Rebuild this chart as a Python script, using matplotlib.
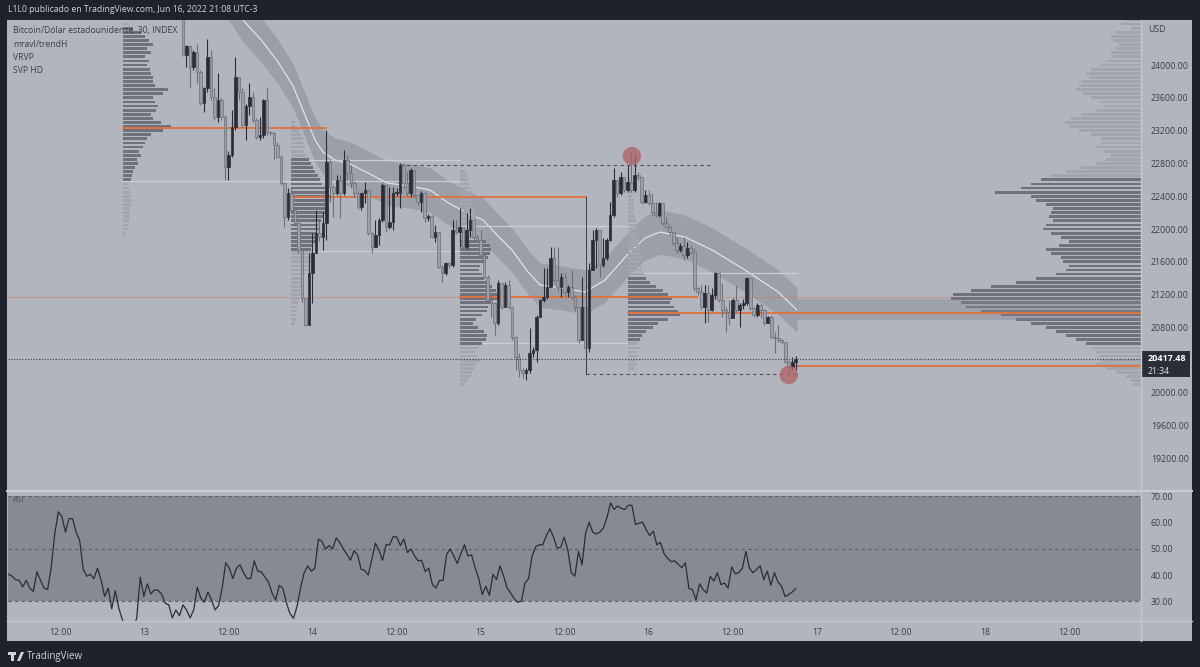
import numpy as np
import matplotlib
matplotlib.use("Agg")
import matplotlib.pyplot as plt
from matplotlib.patches import Rectangle, Polygon
from matplotlib.lines import Line2D

plt.rcParams['font.family'] = ['Open Sans', 'DejaVu Sans']

# ---------------- data ----------------
# x axis: hours since 2022-06-13 00:00 (UTC-3); 30-minute candles
bar_start_hour = 5.5
bar_hours = 0.5
first_open = 24620
closes = [24122, 24232, 23980, 24163, 23919, 23533, 23716, 24102, 23614, 23370,
          23573, 23370, 22760, 22903, 23248, 23858, 23675, 23269, 23500, 23614,
          23329, 23126, 23146, 23573, 23187, 23167, 23025, 22882, 22557, 22150,
          22443, 22232, 22069, 21744, 21155, 20830, 21459, 21703, 21947, 21907,
          22069, 22821, 22516, 22435, 22598, 22435, 22841, 22678, 22557, 22435,
          22272, 22435, 22475, 21947, 21784, 21926, 22109, 22536, 22028, 22089,
          22435, 22443, 22780, 22557, 22435, 22719, 22414, 22333, 22435, 22130,
          22158, 21906, 21967, 21540, 21459, 21581, 21560, 21987, 21967, 22028,
          21784, 21987, 22109, 21906, 21865, 21683, 21418, 21134, 21093, 20849,
          21337, 21053, 21317, 21053, 20687, 20443, 20280, 20240, 20280, 20483,
          20524, 20930, 21134, 21174, 21296, 21642, 21378, 21296, 21418, 21235,
          21296, 21174, 21053, 20646, 21053, 20544, 21500, 21866, 21988, 21561,
          21642, 21866, 22170, 22597, 22435, 22638, 22475, 22577, 22475, 22658,
          22638, 22333, 22414, 22313, 22211, 22171, 22313, 22070, 22029, 21968,
          21826, 21744, 21793, 21683, 21765, 21724, 21277, 21236, 21053, 21216,
          21013, 21196, 21460, 21135, 21013, 20992, 20911, 21135, 21013, 21074,
          21094, 21399, 21033, 20952, 21074, 21013, 20850, 20931, 20687, 20667,
          20647, 20626, 20383, 20322, 20383, 20417]
highs = [24650, 24250, 24240, 24183, 24256, 23939, 23736, 24313, 24183, 23716,
         23899, 23593, 23390, 22950, 23450, 24102, 23858, 23716, 23520, 23777,
         23675, 23350, 23370, 23590, 23736, 23200, 23180, 23060, 22900, 22560,
         22496, 22496, 22260, 22090, 21744, 21160, 21703, 21947, 22232, 22110,
         22211, 23207, 22841, 22536, 22659, 22659, 22963, 22900, 22780, 22580,
         22475, 22450, 22577, 22333, 21960, 22109, 22130, 22557, 22536, 22516,
         22516, 22500, 22800, 22780, 22699, 22740, 22658, 22420, 22460, 22333,
         22180, 22170, 22048, 21967, 21560, 21600, 21600, 22109, 22109, 22252,
         22028, 22191, 22252, 22109, 21930, 21987, 21700, 21440, 21230, 21113,
         21378, 21337, 21358, 21378, 21060, 20700, 20483, 20300, 20300, 20788,
         20560, 20950, 21150, 21520, 21520, 21784, 21784, 21784, 21459, 21459,
         21320, 21500, 21200, 21060, 21418, 20750, 21581, 21987, 22008, 21988,
         21886, 21886, 22333, 22740, 22597, 22699, 22638, 22780, 22943, 22900,
         22700, 22638, 22475, 22475, 22435, 22334, 22330, 22313, 22151, 22050,
         21968, 21907, 21826, 21907, 21846, 21800, 21765, 21290, 21317, 21317,
         21317, 21277, 21480, 21460, 21338, 21050, 21135, 21155, 21317, 21100,
         21150, 21420, 21317, 21050, 21100, 21090, 21020, 20940, 20951, 20750,
         20830, 20660, 20626, 20400, 20443, 20450]
lows = [24110, 23980, 23736, 23939, 23777, 23512, 23431, 23675, 23573, 23329,
        23309, 23329, 22598, 22598, 22880, 23207, 23574, 23250, 23086, 23390,
        23300, 23100, 23086, 23110, 23146, 23146, 22842, 22860, 22540, 22029,
        22110, 22210, 22040, 21703, 21110, 20818, 20830, 21094, 21744, 21850,
        21744, 21866, 22333, 22150, 22415, 22130, 22415, 22600, 22500, 22390,
        22250, 22230, 22313, 21926, 21703, 21805, 21805, 22089, 21967, 22000,
        21988, 22400, 22252, 22500, 22400, 22390, 22380, 22290, 22211, 22089,
        22100, 21886, 21845, 21520, 21357, 21439, 21520, 21540, 21940, 21784,
        21760, 21760, 21906, 21880, 21840, 21660, 21400, 21110, 20930, 20707,
        20829, 21030, 21053, 21030, 20646, 20280, 20199, 20178, 20158, 20240,
        20443, 20382, 20930, 21110, 21150, 21459, 21350, 21240, 21174, 21200,
        21174, 21150, 21000, 20605, 20646, 20240, 20500, 21500, 21520, 21420,
        21540, 21620, 21850, 22150, 22394, 22414, 22450, 22455, 22450, 22455,
        22600, 22300, 22313, 22290, 22170, 22150, 22150, 22049, 22010, 21927,
        21800, 21704, 21720, 21622, 21642, 21700, 21250, 21196, 21030, 20850,
        20870, 21000, 21150, 21110, 20931, 20750, 20830, 20911, 20990, 20810,
        21020, 21074, 21010, 20930, 20930, 20911, 20830, 20850, 20667, 20492,
        20620, 20600, 20362, 20240, 20280, 20280]
last_price = 20417.48

# RSI(14) values, left to right
rsi = [40.3, 39.6, 38.3, 38.0, 35.5, 38.0, 35.1, 33.8, 41.3, 38.0, 35.1, 34.5, 42.8, 55.6,
       64.0, 62.3, 56.3, 61.4, 61.4, 56.3, 53.1, 42.2, 39.6, 40.3, 38.7, 42.6, 38.3, 31.9,
       35.1, 27.2, 34.1, 27.4, 23.0, 20.5, 19.0, 20.0, 23.6, 39.2, 31.9, 36.7, 32.8, 34.5,
       34.2, 32.8, 29.4, 28.7, 23.8, 26.8, 24.6, 28.7, 26.8, 23.8, 26.8, 35.4, 31.3, 29.7,
       33.6, 30.6, 26.8, 28.5, 35.1, 44.7, 42.6, 38.7, 42.6, 43.9, 40.9, 38.7, 38.7, 45.4,
       41.5, 41.2, 39.2, 37.4, 33.2, 30.6, 36.1, 35.1, 29.7, 25.5, 23.6, 28.1, 35.1, 40.9,
       43.5, 41.5, 42.6, 53.7, 52.8, 49.9, 51.2, 49.9, 54.1, 52.4, 49.9, 47.9, 45.6, 49.2,
       47.7, 42.2, 41.8, 40.0, 46.0, 52.1, 49.5, 45.6, 51.5, 51.5, 54.6, 54.4, 51.2, 53.7,
       48.6, 49.9, 47.3, 45.4, 45.6, 41.3, 42.6, 36.4, 35.1, 38.0, 38.0, 47.9, 49.9, 47.3,
       44.4, 48.2, 51.5, 47.3, 47.7, 42.8, 38.7, 32.6, 35.8, 32.3, 40.3, 38.3, 43.5, 39.6,
       35.1, 33.2, 31.0, 29.7, 30.2, 37.0, 38.7, 47.3, 50.8, 51.5, 51.5, 55.0, 57.6, 54.4,
       50.3, 50.5, 54.4, 49.5, 40.9, 39.6, 49.0, 43.9, 55.9, 60.1, 56.3, 55.6, 56.3, 57.9,
       61.8, 67.4, 64.9, 66.2, 65.3, 64.9, 66.5, 66.5, 59.2, 59.7, 60.1, 57.2, 55.0, 56.7,
       51.5, 52.4, 48.2, 46.4, 45.1, 45.4, 44.1, 42.8, 44.7, 34.9, 34.5, 30.6, 36.7, 34.5,
       33.2, 39.6, 37.7, 40.9, 36.4, 37.0, 35.1, 43.1, 40.5, 40.9, 42.6, 49.0, 42.6, 40.9,
       42.2, 43.5, 38.3, 41.5, 36.1, 40.9, 37.4, 35.8, 31.9, 32.6, 33.6, 34.9]
rsi_first_hour = -19.4
rsi_last_hour = 93.0

# trend band (mravl/trendH) midline
band_hours = [10.0, 14.09, 16.8, 19.09, 21.23, 22.94, 24.37, 25.51, 27.22, 29.37, 31.94,
              34.65, 37.93, 40.79, 43.21, 45.78, 48.35, 50.35, 52.49, 54.78, 56.49,
              59.63, 62.91, 65.77, 69.05, 71.48, 73.62, 77.19, 81.05, 85.76, 90.47, 93.18]
band_mid = [25100, 24549, 24293, 24037, 23744, 23390, 23085, 22939, 22841, 22793, 22683,
            22561, 22524, 22476, 22329, 22207, 22110, 21927, 21744, 21476, 21317,
            21281, 21232, 21378, 21695, 21890, 21963, 21902, 21744, 21500, 21232, 21012]
band_half = 270

# session volume profiles (VRVP / SVP HD): session start hour, top price (step 50), volumes
prof_step = 50
p1_start, p1_top, p1_va = -3.0, 24500, (22600, 24450)
p1_vol = [6, 10, 18, 22, 26, 30, 24, 28, 22, 26,
          24, 27, 28, 30, 30, 32, 45, 40, 30, 32,
          35, 33, 28, 30, 38, 48, 40, 28, 24, 22,
          20, 16, 18, 14, 15, 12, 10, 9, 8, 5,
          6, 8, 7, 9, 8, 7, 6, 7, 6, 5,
          4, 3]
p2_start, p2_top, p2_va = 21.0, 23300, (21750, 22850)
p2_vol = [4, 6, 8, 10, 12, 13, 14, 12, 15, 18,
          20, 22, 24, 27, 29, 31, 34, 36, 40, 37,
          34, 36, 38, 33, 30, 27, 28, 25, 24, 26,
          22, 20, 22, 24, 20, 22, 18, 14, 12, 10,
          11, 9, 10, 8, 7, 6, 6, 5, 5, 4]
p3_start, p3_top, p3_va = 45.0, 22700, (20600, 21850)
p3_vol = [5, 7, 8, 10, 10, 12, 14, 12, 13, 15,
          14, 16, 18, 20, 22, 21, 24, 26, 30, 31,
          30, 28, 26, 20, 19, 22, 24, 28, 32, 36,
          38, 40, 33, 28, 27, 22, 16, 13, 18, 24,
          27, 26, 22, 18, 15, 17, 20, 16, 14, 12,
          10, 8, 5]
p4_start, p4_top, p4_va = 69.0, 22600, (20650, 21400)
p4_vol = [3, 4, 3, 5, 4, 6, 5, 6, 5, 7,
          8, 10, 9, 11, 10, 12, 11, 13, 12, 14,
          12, 13, 14, 16, 18, 22, 28, 35, 40, 44,
          42, 46, 50, 52, 40, 30, 25, 18, 14, 12,
          10, 12, 9, 10, 8, 9, 6]
# SVP HD (whole visible range), drawn from the right edge
svp_top, svp_va = 24550, (20600, 22600)
svp_vol = [15, 20, 10, 25, 30, 28, 22, 25, 30, 28,
           35, 40, 50, 55, 52, 60, 62, 65, 58, 50,
           40, 38, 45, 60, 70, 76, 72, 62, 50, 40,
           40, 45, 38, 30, 35, 45, 60, 75, 90, 100,
           110, 120, 146, 110, 105, 95, 88, 90, 92, 88,
           95, 98, 90, 80, 72, 82, 95, 90, 80, 78,
           72, 75, 85, 105, 125, 150, 170, 188, 190, 180,
           175, 160, 140, 125, 110, 95, 85, 75, 65, 55,
           50, 45, 42, 40, 45, 35, 25, 15, 10, 8]

# POC lines: (price, start hour, end hour or None = right edge)
poc_lines = [(23232, -3.0, 26.0), (22390, 21.0, 63.1), (21170, 45.0, 78.9),
             (20976, 69.0, None), (20329, 92.7, None)]
# value-area boundary lines: (price, start, end)
va_lines = [(22585, -3.2, 45.0), (22841, 21.2, 45.0), (21732, 24.1, 45.0),
            (22037, 45.0, 69.0), (20610, 45.0, 69.0), (21463, 69.0, 93.2)]
# drawings
high_level, high_from, high_to = 22784, 36.5, 81.0
low_level, low_from, low_to = 20228, 63.0, 93.5
marker_hours = [69.6, 92.0]
marker_prices = [22890, 20220]
zone_lo, zone_hi, zone_from = 20890, 21150, 93.2

price_ticks = [19200, 19600, 20000, 20800, 21200, 21600, 22000, 22400, 22800,
               23200, 23600, 24000]
rsi_ticks = [30, 40, 50, 60, 70]
time_ticks = [-12, 0, 12, 24, 36, 48, 60, 72, 84, 96, 108, 120, 132]
time_labels = ['12:00', '13', '12:00', '14', '12:00', '15', '12:00', '16', '12:00',
               '17', '12:00', '18', '12:00']

# ---------------- style ----------------
W, H = 1200, 667
FIG_BG = '#1e222d'
PANEL = '#b2b5be'
TXT = '#3b3e48'
ORANGE = '#e0703a'
BULL = '#2a2d37'
BEAR_FACE = '#9c9fa8'
BEAR_EDGE = '#6c6f79'
XMIN, XMAX = -19.46, 142.28
YMIN, YMAX = 18817, 24549
px_per_hour = 7.005

fig = plt.figure(figsize=(12, 6.67), dpi=100)
fig.patch.set_facecolor(FIG_BG)


def fr(x0, y0, x1, y1):
    return [x0 / W, 1 - y1 / H, (x1 - x0) / W, (y1 - y0) / H]


def ftext(x, y, s, **kw):
    fig.text(x / W, 1 - y / H, s, **kw)


def fline(x0, y0, x1, y1, **kw):
    fig.add_artist(Line2D([x0 / W, x1 / W], [1 - y0 / H, 1 - y1 / H],
                          transform=fig.transFigure, **kw))


bg = fig.add_axes(fr(7, 20, 1192, 641))
bg.set_facecolor(PANEL)
bg.set_xticks([]); bg.set_yticks([])
for s in bg.spines.values():
    s.set_visible(False)

ax = fig.add_axes(fr(8, 20, 1141, 490))
axr = fig.add_axes(fr(8, 491, 1141, 621), sharex=ax)
for a in (ax, axr):
    a.set_facecolor('none')
    for s in a.spines.values():
        s.set_visible(False)
ax.set_xlim(XMIN, XMAX)
ax.set_ylim(YMIN, YMAX)
axr.set_ylim(22.6, 71.9)

# trend band
bh = np.array(band_hours); bm = np.array(band_mid)
ax.fill_between(bh, bm - band_half, bm + band_half, color='#50535e', alpha=0.22,
                lw=0, zorder=1)
ax.plot(bh, bm, color='#eceef2', lw=0.9, alpha=0.85, zorder=1.2)

# zone rectangle at right
ax.add_patch(Rectangle((zone_from, zone_lo), XMAX - zone_from, zone_hi - zone_lo,
                       facecolor='#80838d', alpha=0.4, lw=0, zorder=3.5))

# volume profiles
vscale = 1.0 / px_per_hour


def draw_profile(start, top, vols, va, from_right=False):
    vols = np.array(vols, dtype=float)
    prices = top - prof_step * np.arange(len(vols))
    inva = (prices >= va[0]) & (prices <= va[1])
    cols = np.where(inva, '#6f727c', '#a2a5ad')
    widths = vols * vscale
    left = (XMAX - widths) if from_right else np.full(len(vols), start)
    ax.barh(prices, widths, left=left, height=prof_step * 0.68, color=cols,
            lw=0, zorder=2)


draw_profile(p1_start, p1_top, p1_vol, p1_va)
draw_profile(p2_start, p2_top, p2_vol, p2_va)
draw_profile(p3_start, p3_top, p3_vol, p3_va)
draw_profile(p4_start, p4_top, p4_vol, p4_va)
draw_profile(None, svp_top, svp_vol, svp_va, from_right=True)

# value area lines
for p, a0, a1 in va_lines:
    ax.plot([a0, a1], [p, p], color='#cbced5', lw=0.9, zorder=1.5)

# full-width faint line and POC lines
ax.axhline(21170, color=ORANGE, lw=0.6, alpha=0.5, zorder=1.6)
for p, a0, a1 in poc_lines:
    ax.plot([a0, XMAX if a1 is None else a1], [p, p], color=ORANGE, lw=1.3, zorder=3.6)

# candles
c = np.array(closes, float)
o = np.concatenate([[first_open], c[:-1]])
h = np.maximum(np.array(highs, float), np.maximum(o, c))
l = np.minimum(np.array(lows, float), np.minimum(o, c))
t = bar_start_hour + bar_hours * np.arange(len(c))
up = c >= o
wick_cols = np.where(up, BULL, BEAR_EDGE)
ax.vlines(t, l, h, colors=wick_cols, lw=0.8, zorder=4)
body_lo = np.minimum(o, c)
body_h = np.maximum(np.abs(c - o), 12)
ax.bar(t, body_h, bottom=body_lo, width=0.38, color=np.where(up, BULL, BEAR_FACE),
       edgecolor=np.where(up, BULL, BEAR_EDGE), lw=0.5, zorder=4.5)

# drawings
ax.plot([high_from, high_to], [high_level, high_level], color='#4a4d57', lw=0.8,
        dashes=(3, 3), zorder=5)
ax.plot([low_from, low_to], [low_level, low_level], color='#4a4d57', lw=0.8,
        dashes=(3, 3), zorder=5)
ax.plot([63.1, 63.1], [low_level, 22390], color='#3d404a', lw=0.7, zorder=5)
ax.axhline(last_price, color='#3a3d46', lw=0.8, ls=(0, (1, 1.5)), zorder=5)
ax.scatter(marker_hours, marker_prices, s=175, color='#b0646b', alpha=0.8,
           edgecolors='none', zorder=6)

# price axis labels
ax.yaxis.tick_right()
ax.set_yticks(price_ticks)
ax.set_yticklabels([f'{v:.2f}' for v in price_ticks])
ax.tick_params(axis='y', length=0, pad=7, labelsize=6.3, labelcolor=TXT)
ax.tick_params(axis='x', length=0, labelbottom=False)

# RSI pane
axr.axhspan(30, 70, color='#878a94', lw=0, zorder=0.5)
for lv in (30, 50, 70):
    axr.axhline(lv, color='#5c5f69', lw=0.8, dashes=(3, 3), zorder=1)
axr.plot(np.linspace(rsi_first_hour, rsi_last_hour, len(rsi)), rsi, color='#2a2d36',
         lw=0.9, zorder=2)
axr.yaxis.tick_right()
axr.set_yticks(rsi_ticks)
axr.set_yticklabels([f'{v:.2f}' for v in rsi_ticks])
axr.tick_params(axis='y', length=0, pad=7, labelsize=6.3, labelcolor=TXT)
axr.set_xticks(time_ticks)
axr.set_xticklabels(time_labels)
axr.tick_params(axis='x', length=0, pad=5, labelsize=6.3, labelcolor=TXT)
axr.set_xlim(XMIN, XMAX)

# separators
fline(1141, 20, 1141, 641, color='#c3c6cd', lw=1)
fline(7, 490.5, 1192, 490.5, color='#c9ccd3', lw=1.5)
fline(7, 621, 1192, 621, color='#c3c6cd', lw=1)

# texts
ftext(8, 10, 'L1L0 publicado en TradingView.com, Jun 16, 2022 21:08 UTC-3',
      color='#d1d4dc', fontsize=6.2, va='center', ha='left')
legend = ['Bitcoin/Dólar estadounidense, 30, INDEX', 'mravl/trendH', 'VRVP', 'SVP HD']
for i, s in enumerate(legend):
    ftext(13, 31 + 13.3 * i, s, color=TXT, fontsize=6.2, va='center', ha='left')
ftext(12, 501, 'RSI', color='#4a4d57', fontsize=5.8, va='center', ha='left')
ftext(1148, 30, 'USD', color=TXT, fontsize=6.3, va='center', ha='left')

# last price label
fig.add_artist(Rectangle((1142 / W, 1 - 377 / H), 48 / W, 26 / H,
                         transform=fig.transFigure, facecolor='#2a2e39', lw=0))
ftext(1148, 358, f'{last_price:.2f}', color='white', fontsize=6.5, weight='bold',
      va='center', ha='left')
ftext(1148, 371, '21:34', color='#e0e3eb', fontsize=6.2, va='center', ha='left')

# footer logo + text
fig.add_artist(Rectangle((8 / W, 1 - 655 / H), 8 / W, 3 / H, transform=fig.transFigure,
                         facecolor='#d1d4dc', lw=0))
fig.add_artist(Rectangle((11 / W, 1 - 661 / H), 3 / W, 8 / H, transform=fig.transFigure,
                         facecolor='#d1d4dc', lw=0))
fig.add_artist(Polygon([(17 / W, 1 - 661 / H), (20 / W, 1 - 661 / H),
                        (24 / W, 1 - 652 / H), (21 / W, 1 - 652 / H)],
                       closed=True, transform=fig.transFigure, facecolor='#d1d4dc', lw=0))
ftext(27, 656, 'TradingView', color='#d1d4dc', fontsize=7, va='center', ha='left')

fig.savefig('out.png', dpi=100, facecolor=FIG_BG)
